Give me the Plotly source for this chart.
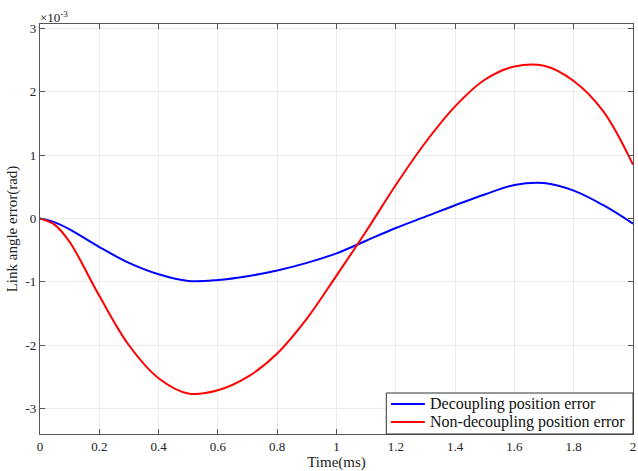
import numpy as np
import plotly.graph_objects as go

# Time samples (ms)
t = [0, 0.05, 0.1, 0.2, 0.3, 0.4, 0.5, 0.6, 0.7, 0.8, 0.9, 1.0, 1.1,
     1.2, 1.3, 1.4, 1.5, 1.6, 1.7, 1.8, 1.9, 2.0]
# Decoupling position error (x 1e-3 rad)
err_dec = [0, -0.06, -0.17, -0.45, -0.70, -0.88, -0.985, -0.97, -0.91, -0.82, -0.70,
           -0.55, -0.35, -0.15, 0.03, 0.21, 0.38, 0.53, 0.56, 0.44, 0.21, -0.08]
# Non-decoupling position error (x 1e-3 rad)
err_non = [0, -0.10, -0.37, -1.22, -2.00, -2.52, -2.76, -2.71, -2.50, -2.13, -1.58,
           -0.90, -0.20, 0.53, 1.20, 1.77, 2.19, 2.40, 2.41, 2.17, 1.69, 0.85]

series_names = ["Decoupling position error", "Non-decoupling position error"]
series_colors = ["#0000ff", "#ff0000"]

x_ticks = [0, 0.2, 0.4, 0.6, 0.8, 1, 1.2, 1.4, 1.6, 1.8, 2]
x_tick_text = ["0", "0.2", "0.4", "0.6", "0.8", "1", "1.2", "1.4", "1.6", "1.8", "2"]
y_ticks = [-3, -2, -1, 0, 1, 2, 3]
y_tick_text = ["-3", "-2", "-1", "0", "1", "2", "3"]

SCALE = 1e-3
FONT = "Liberation Serif"
TEXT_COLOR = "#222222"

fig = go.Figure()
for vals, name, color in zip([err_dec, err_non], series_names, series_colors):
    fig.add_trace(go.Scatter(
        x=t, y=np.array(vals) * SCALE, mode="lines",
        line=dict(color=color, width=2, shape="spline", smoothing=1.0),
        name=name, showlegend=False))

axis_common = dict(
    showline=True, linecolor="#555555", linewidth=1.2, mirror="ticks",
    ticks="inside", ticklen=5, tickcolor="#555555",
    showgrid=True, gridcolor="#ebebeb", gridwidth=1, zeroline=False,
    tickfont=dict(family=FONT, size=13, color=TEXT_COLOR),
    ticklabeloverflow="allow",
)

fig.update_xaxes(range=[0, 2], tickvals=x_ticks, ticktext=x_tick_text,
                 title=dict(text="Time(ms)", font=dict(family=FONT, size=15, color=TEXT_COLOR),
                            standoff=4),
                 **axis_common)
fig.update_yaxes(range=[-3.4 * SCALE, 3.07 * SCALE],
                 tickvals=[v * SCALE for v in y_ticks], ticktext=y_tick_text,
                 title=dict(text="Link angle error(rad)",
                            font=dict(family=FONT, size=15, color=TEXT_COLOR), standoff=4),
                 **axis_common)

# Exponent marker above the y axis
fig.add_annotation(x=0, y=1, xref="paper", yref="paper", xanchor="left", yanchor="bottom",
                   text="×10<sup>-3</sup>", showarrow=False, xshift=-2, yshift=-3,
                   font=dict(family=FONT, size=13, color=TEXT_COLOR))

# Boxed legend in the lower-right corner of the axes
leg_x0, leg_x1, leg_y0, leg_y1 = 0.584, 1.0, 0.0, 0.1
fig.add_shape(type="rect", xref="paper", yref="paper",
              x0=leg_x0, x1=leg_x1, y0=leg_y0, y1=leg_y1,
              line=dict(color="#333333", width=1), fillcolor="white", layer="above")
row_y = [0.073, 0.029]
for ry, name, color in zip(row_y, series_names, series_colors):
    fig.add_shape(type="line", xref="paper", yref="paper",
                  x0=0.592, x1=0.649, y0=ry, y1=ry,
                  line=dict(color=color, width=2), layer="above")
    fig.add_annotation(x=0.654, y=ry, xref="paper", yref="paper",
                       xanchor="left", yanchor="middle", text=name, showarrow=False,
                       font=dict(family=FONT, size=16, color="#111111"))

fig.update_layout(
    width=638, height=471,
    margin=dict(l=40, r=2, t=24, b=37),
    paper_bgcolor="white", plot_bgcolor="white",
    font=dict(family=FONT),
    showlegend=False,
)

fig.write_html("out.html")
